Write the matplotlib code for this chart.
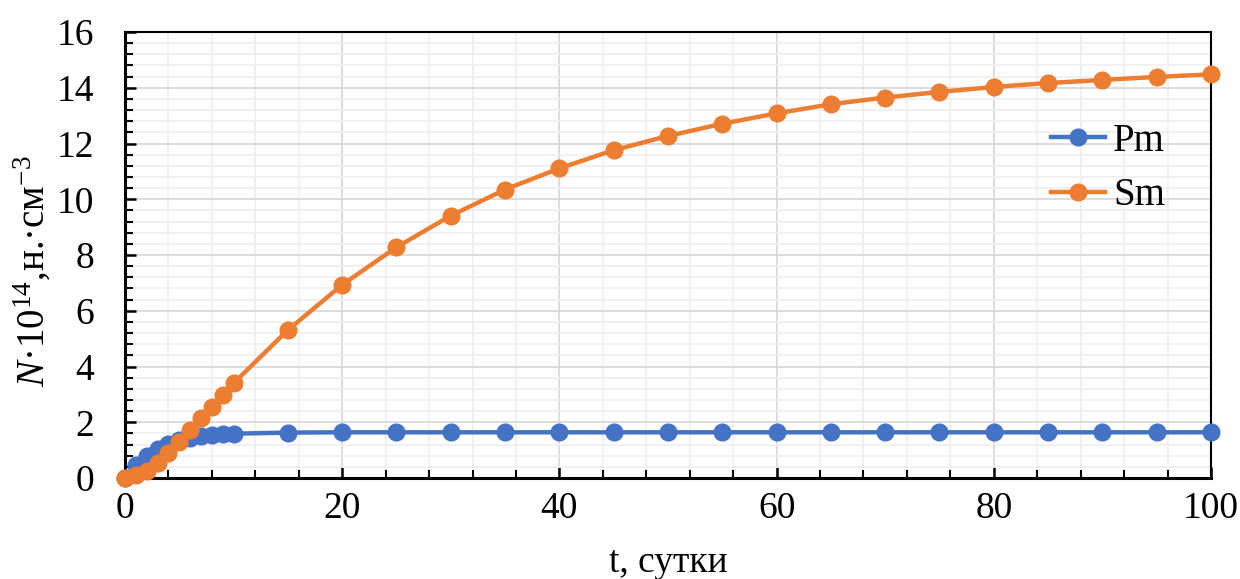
import numpy as np
import matplotlib.pyplot as plt
from matplotlib.ticker import MultipleLocator

plt.rcParams['font.family'] = 'Liberation Serif'
plt.rcParams['mathtext.fontset'] = 'custom'
plt.rcParams['mathtext.rm'] = 'Liberation Serif'
plt.rcParams['mathtext.it'] = 'Liberation Serif:italic'

# time, days
t = [0, 1, 2, 3, 4, 5, 6, 7, 8, 9, 10,
     15, 20, 25, 30, 35, 40, 45, 50, 55, 60, 65, 70, 75, 80, 85, 90, 95, 100]

# nuclei concentration, 1e14 cm^-3
pm = [0, 0.46, 0.78, 1.03, 1.22, 1.35, 1.43, 1.49, 1.53, 1.57, 1.59,
      1.63, 1.64, 1.64, 1.64, 1.64, 1.64, 1.64, 1.64, 1.64, 1.64, 1.64,
      1.64, 1.64, 1.64, 1.64, 1.64, 1.64, 1.64]
sm = [0, 0.1, 0.24, 0.55, 0.91, 1.31, 1.73, 2.14, 2.56, 2.98, 3.40,
      5.31, 6.93, 8.28, 9.41, 10.35, 11.11, 11.76, 12.27, 12.71, 13.08, 13.41,
      13.65, 13.85, 14.03, 14.17, 14.28, 14.39, 14.48]

fig = plt.figure(figsize=(12.4, 5.79), dpi=100)
ax = fig.add_axes([0.1008, 0.1744, 0.8758, 0.7703])

ax.plot(t, pm, color='#4472C4', lw=3.2, marker='o', ms=12, label='Pm', clip_on=False, zorder=3)
ax.plot(t, sm, color='#ED7D31', lw=3.2, marker='o', ms=12, label='Sm', clip_on=False, zorder=4)

ax.set_xlim(0, 100)
ax.set_ylim(0, 16)
ax.xaxis.set_major_locator(MultipleLocator(20))
ax.xaxis.set_minor_locator(MultipleLocator(4))
ax.yaxis.set_major_locator(MultipleLocator(2))
ax.yaxis.set_minor_locator(MultipleLocator(0.4))

ax.grid(which='major', color='#d9d9d9', lw=1.3)
ax.grid(which='minor', color='#f0f0f0', lw=1.3)
ax.set_axisbelow(True)

for s in ax.spines.values():
    s.set_color('black')
    s.set_linewidth(1.5)
ax.spines['left'].set_linewidth(2.2)
ax.spines['bottom'].set_linewidth(2.2)

ax.tick_params(which='major', direction='in', length=8, width=1.8, labelsize=27,
               top=False, right=False)
ax.tick_params(axis='x', which='major', pad=10)
ax.tick_params(axis='y', which='major', pad=22)
ax.tick_params(which='minor', direction='in', length=6, width=1.5, top=False, right=False)

ax.set_xlabel('t, сутки', fontsize=27, labelpad=14)
ax.set_ylabel(r'$N$·10$^{14}$,н.·см$^{-3}$', fontsize=28)
ax.yaxis.set_label_coords(-0.066, 0.465)

ax.legend(loc='upper right', bbox_to_anchor=(0.99, 0.875), frameon=False, fontsize=28,
          handlelength=1.4, labelspacing=0.45, handletextpad=0.2)

fig.savefig('out.png', dpi=100)
